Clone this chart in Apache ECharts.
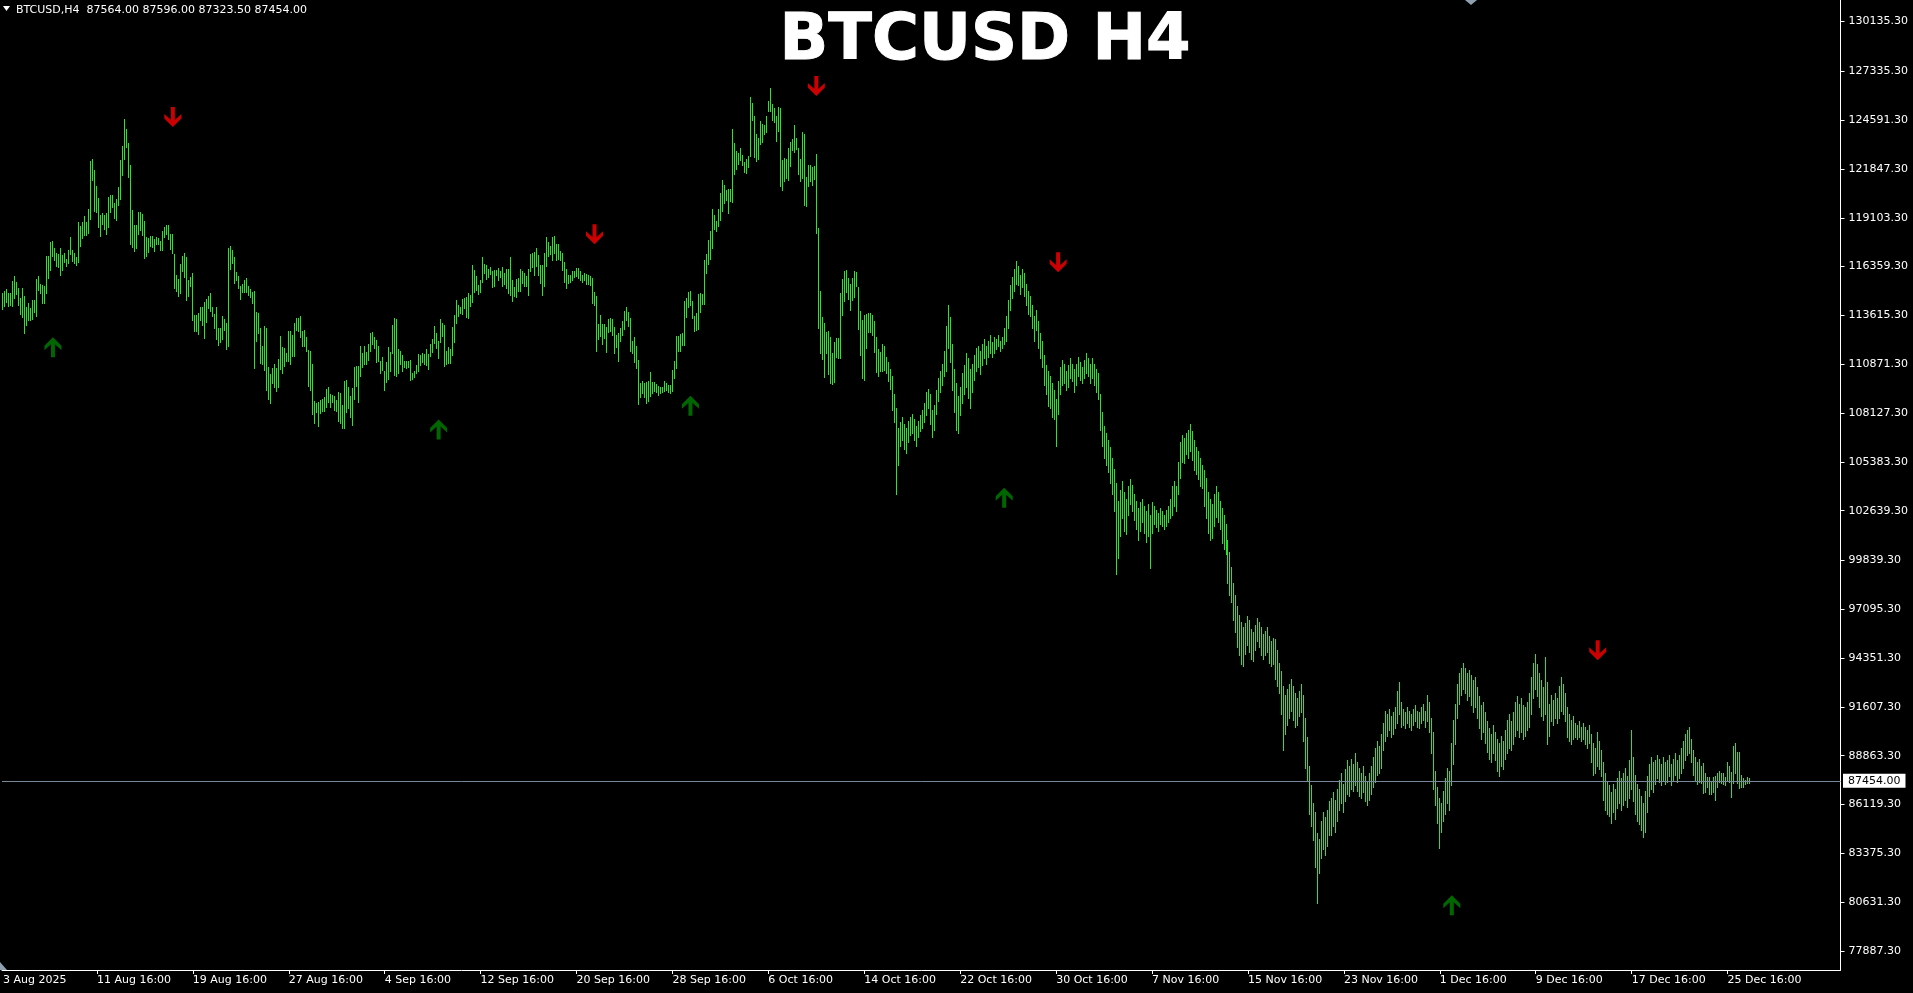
<!DOCTYPE html>
<html><head><meta charset="utf-8">
<script src="https://cdn.jsdelivr.net/npm/echarts@6/dist/echarts.min.js"></script>
<style>html,body{margin:0;padding:0;background:#000;overflow:hidden}#c{width:1913px;height:993px}</style>
</head><body><div id="c"></div><script>
const symbolName = 'BTCUSD,H4';
const chartTitle = 'BTCUSD H4';
const ohlcHeader = [87564.00, 87596.00, 87323.50, 87454.00];
const lastPrice = 87454.00;
const startTime = Date.UTC(2025, 7, 3, 20, 0);
const slotCount = 920;
const highs = [
114891,114985,115098,114891,114891,115547,115828,115491,115135,114591,
115135,114704,114085,114310,114029,114479,114460,115660,115809,115360,
115304,115266,116953,116953,117740,117796,117383,117103,117066,117383,
116990,117121,116765,117290,118021,117290,117121,116878,118865,118639,
118865,119201,118865,119595,122294,122387,121788,120888,120213,119257,
119351,119257,119351,120269,120382,120363,119932,120157,120814,122350,
123118,124655,124093,123305,122068,119539,118695,118695,119427,119408,
119295,118921,118040,117984,118077,118058,117928,118021,117946,117796,
118377,118565,118677,118677,118171,118190,117046,115866,115678,116503,
116953,117121,116896,115584,115772,115997,113617,113636,113729,114085,
114085,114367,114535,114704,114873,114085,113673,114085,112905,112905,
113581,113412,113187,117404,117516,117291,116898,116036,115830,115267,
115380,115605,115717,115267,115099,114949,114986,113806,113750,112906,
111894,113019,112906,110714,110320,110657,110882,110657,111163,112456,
111838,111782,111501,112738,112738,112512,113187,113468,113468,113562,
112738,112794,112400,111669,111613,110882,108802,108690,108765,108858,
108915,109027,109477,109589,109214,109158,109102,108858,109308,109252,
108577,109945,109983,109589,109083,109533,110714,110770,110789,111894,
111501,111894,111576,112007,112625,112681,112400,112232,111894,111051,
111276,110489,110995,111838,111557,113075,113468,113431,111726,111613,
111388,111051,111051,111051,111107,110376,110489,110826,111445,111388,
111501,111445,111726,111445,112007,112288,113019,112625,112175,113412,
113187,113075,111613,111838,111726,112962,113637,114480,114199,114087,
114537,114593,114649,114874,114761,116448,116167,115830,115324,115605,
116898,116504,116448,116223,116336,116130,116167,116186,116298,116130,
116336,116017,116223,116242,116898,115605,115211,115661,115717,116223,
116130,116017,115830,116223,117067,117123,117179,117404,117029,116467,
116467,117123,118022,117741,117516,118022,118078,117629,117629,117235,
117123,116617,116223,115886,115886,116111,116111,116279,116279,116111,
115886,115998,115942,115886,115830,115717,114930,114705,113131,113637,
113131,113131,112981,113412,113468,113431,112962,112512,112625,112906,
113300,113862,114068,113806,113468,112175,112400,111894,111107,109814,
109927,109814,109870,109927,110433,109870,109870,109758,109645,109571,
109587,109925,109793,109700,109700,110543,111049,112454,112454,112567,
112623,114422,114591,114928,114984,114422,113579,113748,114816,114872,
114816,116727,117065,117852,118358,119594,119257,118920,119594,120494,
121225,120944,120663,120738,120719,124092,123305,122855,122743,123005,
122630,122237,122405,122574,125891,125554,124842,123811,123605,124542,
124373,124336,124823,125666,126397,125498,125291,124842,125329,125291,
122349,122480,122424,123024,123361,123530,124317,123586,123024,122405,
123923,123811,121412,122068,122068,121956,122012,122687,118526,114984,
113541,113185,112698,112736,112417,111517,112117,112323,112323,114891,
115659,116109,116184,115734,115397,115715,116109,116071,115209,113860,
113354,113635,113710,113748,113748,113654,113298,112417,111724,111574,
112005,111911,
111300,111000,110600,110200,109200,108400,107300,107600,107900,107500,
107300,107700,107900,108100,107800,107400,107700,108000,108300,108700,
109300,109500,109200,108300,108600,109400,110100,110500,110900,111600,
113000,114200,113500,112000,110600,109800,109100,109600,110400,110800,
111500,111200,110600,110900,111400,111800,111900,111600,112000,112300,
111900,112200,112500,112100,112400,112300,112500,112200,112400,112900,
113600,114500,115300,115800,116200,116700,116400,115900,116200,116000,
115400,115000,114700,114200,113600,113900,113300,112600,112200,111400,
110800,110500,110200,109800,109400,108900,109900,110700,111100,110900,
110500,110800,111200,110900,110600,110900,111300,111000,110700,111100,
111500,111200,110900,111200,110900,110600,110400,109200,108200,107400,
107000,106600,106200,105600,105000,104200,103200,103800,104300,103700,
103300,104000,104400,104100,103600,103200,102800,103100,103300,102900,
102600,103000,102400,103100,102900,102700,102500,102800,102600,102400,
102700,102900,103300,104000,104300,104000,105400,106500,106900,106700,
107000,107200,107500,107100,106600,106200,106000,105600,105200,104900,
104500,103700,103300,103000,103600,104000,103700,103200,102800,102400,
101900,101000,100300,99500,98600,97900,97300,96800,96400,96100,
96300,96700,96500,96000,95800,96200,96600,96400,96100,95700,
95900,96100,95600,95300,95500,95400,94800,94100,93600,92800,
92300,92600,92900,93200,92800,92400,92100,92500,92900,92300,
91000,89900,88300,87200,86200,85700,84500,84200,85200,85700,
85400,85800,86300,86500,86800,86400,87000,87500,87900,87300,
88100,88600,88300,88700,88400,89000,88500,88200,87900,88300,
87700,87400,87900,88300,88800,89300,89700,89400,90100,90700,
91400,91200,91500,91100,91300,91600,92500,93000,91900,91500,
91300,91600,91400,91200,91500,91700,91400,91300,91600,91800,
91400,92300,91900,91000,90200,88000,87100,86500,86200,86900,
87600,88200,88000,89600,90900,91800,92900,93500,93800,94100,
93800,93500,93700,93400,93100,93300,92700,92200,91700,91900,
91300,90800,90400,90100,90600,90200,89800,89600,90000,89700,
90300,90900,91200,90800,91300,91900,92200,91800,92100,91700,
91600,91900,92400,93300,94100,94600,94000,93500,93100,92700,
94400,93000,91800,92300,92000,92400,92100,92800,93300,92900,
92400,91600,91200,90900,91100,90700,90600,90800,90500,90700,
90500,90300,90600,90100,89600,89300,90200,89700,89200,88500,
87900,87400,87200,86800,87300,87000,87600,88000,87600,87900,
88200,87700,88600,90300,88800,87800,87300,87000,86600,86200,
86900,87700,88400,88800,88500,88600,88900,88700,88400,88800,
88500,88600,88900,88400,88700,89000,88600,88900,89300,89700,
90100,90300,90500,89800,89200,88800,88500,88700,88303,88434,
87910,87685,87685,87404,87647,87722,87872,88022,87910,87872,
87685,88528,88303,87966,89428,89596,89071,89071,87778,87591,
87498,87685,87596
];
const lows = [
113992,114142,114367,114142,114180,114142,114610,114798,114198,113710,
113523,112642,113092,113336,113355,113411,113805,113579,115022,114854,
114310,114329,114891,115735,116166,116972,116746,116409,116353,115903,
116184,116634,116409,116578,117066,116672,116540,116465,116634,117534,
117984,118152,118152,118227,119033,121244,119502,119427,118602,118096,
118752,118490,118208,118583,119408,119689,119070,118995,119820,120176,
121525,122406,123099,121413,117628,117477,117253,117402,118190,118433,
118152,116859,116953,117196,117534,117440,117234,117628,117628,117309,
117309,118002,118190,117890,117365,117140,115135,114966,114723,114873,
116091,115753,114498,114723,115285,113355,112755,112755,112586,113373,
113092,112361,113243,114029,113842,113598,112905,112305,111968,112099,
112307,112794,111707,111894,116204,116542,115455,115605,115174,114556,
114949,114930,114949,114780,114668,114293,110676,112194,112625,110957,
110882,110564,109439,108933,108708,109833,109608,109383,109608,110601,
110395,110770,111032,111051,110882,111351,111351,112794,112738,112419,
111913,111913,111632,109664,109439,108090,107584,108184,107415,108146,
108259,108259,108484,108765,108484,108765,108315,108259,107697,107584,
107303,107303,108202,108427,107921,107472,108933,109664,108765,110226,
110732,110901,110882,111107,111632,112007,111782,110995,111070,110358,
110564,109402,109870,110039,110508,111519,110282,110226,110395,110882,
110508,110714,110640,110714,110001,110039,110151,110376,110489,110845,
110995,110882,110826,110620,111351,111576,112082,111801,111220,112119,
112475,110789,110901,110957,110957,111407,112119,113206,113600,113768,
113693,114049,113543,113487,114162,114387,114949,115043,114818,114911,
115492,115998,115680,115773,115942,115211,115267,115886,115605,115773,
115267,115399,115155,114874,114761,114443,114705,114649,114986,114986,
115436,115286,115267,114761,116111,116336,115886,116392,115886,115436,
114780,115267,116392,116954,117067,116729,117123,116729,116785,116729,
116167,115492,115174,115436,115492,115605,115773,115830,115717,115605,
115492,115605,115361,115361,115324,114312,114218,111613,112288,112456,
112025,112344,111576,112681,112738,112531,111519,111838,111051,112194,
112512,112850,113356,113019,111632,111519,110995,110657,108652,109046,
109252,109027,108708,108802,109083,109252,109364,109308,109158,109252,
109307,109362,109419,109325,109269,109381,110112,110674,111630,111611,
111930,111967,113541,114104,114197,113448,112754,112811,112867,113822,
114254,114272,116015,116521,116802,117421,118489,118376,118657,118976,
119482,119950,120119,119388,120063,120007,121581,121862,122124,122349,
122068,121675,121637,121974,122574,124598,122537,122312,122424,123267,
123380,123830,123923,125123,125123,124617,124486,123436,123998,120906,
120681,121187,121337,121225,122031,122911,122818,122986,121581,121187,
121356,119838,119782,120887,121169,120962,121262,118264,112923,111517,
111180,110168,111480,110337,109831,109737,109868,111274,111236,111236,
113635,114422,114928,114535,113916,114478,114666,115265,112867,111405,
110112,109962,111799,112679,112698,112511,111536,110449,110224,110468,
110506,110562,
110400,109900,109500,108300,107600,103600,105200,106300,106600,106100,
105900,106500,106900,107000,106600,106300,106800,107100,107300,107600,
108000,108400,107500,106800,107200,108100,108800,109300,109700,110200,
110500,111800,111000,109400,108200,107200,107000,108000,108700,109200,
109600,109000,108400,109300,110000,110500,110700,110300,110800,111200,
110900,111300,111500,111300,111500,111700,111900,111600,111800,112000,
112200,112900,113900,114600,115000,115400,115300,114800,115200,114700,
114200,113700,113600,112900,112200,112800,111800,111200,110700,109700,
109200,108500,108400,107900,107800,106300,108100,109200,109700,109800,
109400,109600,110100,109900,109300,109700,110200,110000,109800,110100,
110400,110200,109800,110100,109700,109300,108900,107200,106300,105600,
105200,104800,104200,103600,102600,99100,100000,101200,102200,101500,
101300,102400,103000,102600,102100,101600,101000,101500,102000,101400,
100900,101200,99400,101400,101900,101700,101500,101900,101800,101600,
101800,102000,102200,102400,102900,102600,103600,104500,105400,105300,
105800,105600,106000,105500,104900,104700,104400,104000,103900,102900,
102200,101400,101000,101100,101800,102300,102000,101600,100800,100500,
100200,98600,97900,97500,96500,95800,95000,94500,94000,93900,
94600,95100,94700,94300,94200,94800,95300,95000,94500,94300,
94500,94700,94100,93900,94000,93200,92800,92400,91200,89200,
90100,90600,91000,91400,90900,90500,90600,91100,91300,89700,
88200,87500,85600,84900,84100,82600,80600,82300,83100,83600,
83300,83800,84400,84400,84900,84600,85200,85800,86200,85700,
86300,86700,86600,87000,86900,87200,86900,86600,86500,86800,
86300,86100,86400,86700,87100,87400,87800,87900,88200,89200,
89700,90000,90300,89900,90100,90400,90700,91200,90500,90600,
90400,90700,90500,90300,90600,90800,90500,90400,90700,90900,
90500,90800,90200,89000,87000,86100,85100,83700,84600,85200,
85600,86200,85800,87200,88400,89500,91000,91800,92300,92600,
92400,92000,92200,91700,91300,91600,91000,90400,89800,90200,
89600,89100,88700,88500,89000,88600,88000,87700,88300,88100,
88700,89000,89300,89200,89500,90000,90300,89900,90200,89800,
90000,90300,90500,91200,92100,92600,92200,91600,91100,90900,
91200,89500,90000,90800,90600,91000,90700,91000,91400,91200,
90800,89900,89700,89500,89800,89900,89800,89900,89700,89800,
89500,89300,89600,88500,87800,87900,88300,88100,87700,86400,
85800,85600,85500,85100,85700,85300,85900,86200,85800,86100,
86400,86000,86500,87000,86300,85600,85200,85000,84700,84300,
84600,85700,86600,87000,86800,87300,87600,87400,87200,87500,
87300,87400,87700,87200,87500,87800,87400,87600,87900,88200,
88600,88900,89000,88500,87800,87500,87300,87400,87347,86748,
86842,87123,86691,86691,86842,86373,87123,87404,87310,87254,
87198,87498,87404,86560,87347,87872,87347,87029,87085,87123,
87273,87347,87324
];
const yTickValues = [130135.30,127335.30,124591.30,121847.30,119103.30,116359.30,113615.30,110871.30,108127.30,105383.30,102639.30,99839.30,97095.30,94351.30,91607.30,88863.30,86119.30,83375.30,80631.30,77887.30];
const xTickLabels = ['3 Aug 2025','11 Aug 16:00','19 Aug 16:00','27 Aug 16:00','4 Sep 16:00','12 Sep 16:00','20 Sep 16:00','28 Sep 16:00','6 Oct 16:00','14 Oct 16:00','22 Oct 16:00','30 Oct 16:00','7 Nov 16:00','15 Nov 16:00','23 Nov 16:00','1 Dec 16:00','9 Dec 16:00','17 Dec 16:00','25 Dec 16:00'];
const upArrows = [[25,111822],[218,107201],[344,108533],[501,103362],[725,80457]];
const downArrows = [[85,124767],[296,118173],[407,126509],[528,116600],[798,94790]];

const barColor = '#30e030';
const MONTHS = ['Jan','Feb','Mar','Apr','May','Jun','Jul','Aug','Sep','Oct','Nov','Dec'];
const categories = [];
for (let i = 0; i < slotCount; i++) {
  const d = new Date(startTime + i * 4 * 3600 * 1000);
  categories.push(d.getUTCDate() + ' ' + MONTHS[d.getUTCMonth()] + ' ' + String(d.getUTCHours()).padStart(2, '0') + ':00');
}
const labelSet = new Set(xTickLabels);
const nBars = Math.min(highs.length, lows.length);
const barData = [];
for (let i = 0; i < nBars; i++) barData.push([i, lows[i], highs[i]]);
const UP_PATH = 'path://M8.5,0 L17,8.5 L17,13 L10.5,7 L10.5,20 L6.5,20 L6.5,7 L0,13 L0,8.5 Z';
const DOWN_PATH = 'path://M6.5,0 L10.5,0 L10.5,13 L17,7 L17,11.5 L8.5,20 L0,11.5 L0,7 L6.5,13 Z';

const chart = echarts.init(document.getElementById('c'), null, {renderer: 'canvas'});
chart.setOption({
  backgroundColor: '#000',
  animation: false,
  grid: {left: 0.5, top: 0, width: 1840, height: 970},
  xAxis: {
    type: 'category', data: categories, boundaryGap: true,
    axisLine: {show: true, lineStyle: {color: '#fff', width: 1}},
    axisTick: {show: true, alignWithLabel: true, interval: (i, v) => labelSet.has(v), length: 4, lineStyle: {color: '#fff'}},
    axisLabel: {show: true, interval: (i, v) => i === 0 || labelSet.has(v), formatter: (v, i) => i === 0 ? xTickLabels[0] : v,
      align: 'left', color: '#fff', fontFamily: 'DejaVu Sans', fontSize: 11, margin: 5},
    splitLine: {show: false}
  },
  yAxis: {
    type: 'value', position: 'right', min: 76820, max: 131344, scale: true,
    axisLine: {show: true, lineStyle: {color: '#fff', width: 1}},
    axisTick: {show: true, customValues: yTickValues, length: 4, lineStyle: {color: '#fff'}},
    axisLabel: {customValues: yTickValues, formatter: v => v.toFixed(2), color: '#fff', fontFamily: 'DejaVu Sans', fontSize: 11, margin: 8},
    splitLine: {show: false}
  },
  graphic: [
    {type: 'polygon', shape: {points: [[3, 6], [10, 6], [6.5, 11]]}, style: {fill: '#fff'}},
    {type: 'polygon', shape: {points: [[1465, 0], [1477, 0], [1471, 5]]}, style: {fill: '#8fa0b0'}},
    {type: 'polygon', shape: {points: [[0, 962], [0, 970], [7, 970]]}, style: {fill: '#8fa0b0'}},
    {type: 'text', style: {text: symbolName + '  ' + ohlcHeader.map(v => v.toFixed(2)).join(' '), x: 16, y: 10,
      fill: '#fff', font: '11px "DejaVu Sans"', textAlign: 'left', textVerticalAlign: 'middle', align: 'left', verticalAlign: 'middle'}},
    {type: 'text', style: {text: chartTitle, x: 985, y: 42, fill: '#fff', stroke: '#fff', lineWidth: 1, font: 'bold 64px "DejaVu Sans"',
      textAlign: 'center', textVerticalAlign: 'middle', align: 'center', verticalAlign: 'middle'}}
  ],
  series: [
    {
      type: 'custom', data: barData, encode: {x: 0, y: [1, 2]}, clip: true,
      renderItem: (params, api) => {
        const lo = api.coord([api.value(0), api.value(1)]);
        const hi = api.coord([api.value(0), api.value(2)]);
        const x = Math.floor(lo[0]) + 0.5;
        return {type: 'line', shape: {x1: x, y1: Math.round(hi[1]), x2: x, y2: Math.round(lo[1]) + 1}, style: {stroke: barColor, lineWidth: 1}};
      }
    },
    {
      type: 'scatter', data: upArrows, symbol: UP_PATH, symbolSize: [17, 20], itemStyle: {color: '#008000'},
      markLine: {
        silent: true, symbol: 'none', animation: false,
        lineStyle: {color: '#778899', type: 'solid', width: 1},
        data: [{yAxis: lastPrice}],
        label: {show: true, position: 'end', distance: 2.5, formatter: lastPrice.toFixed(2), backgroundColor: '#fff', color: '#000',
          fontFamily: 'DejaVu Sans', fontSize: 11, lineHeight: 12, padding: [1, 5, 1, 5]}
      }
    },
    {type: 'scatter', data: downArrows, symbol: DOWN_PATH, symbolSize: [17, 20], itemStyle: {color: '#ff0000'}}
  ]
});
</script></body></html>
